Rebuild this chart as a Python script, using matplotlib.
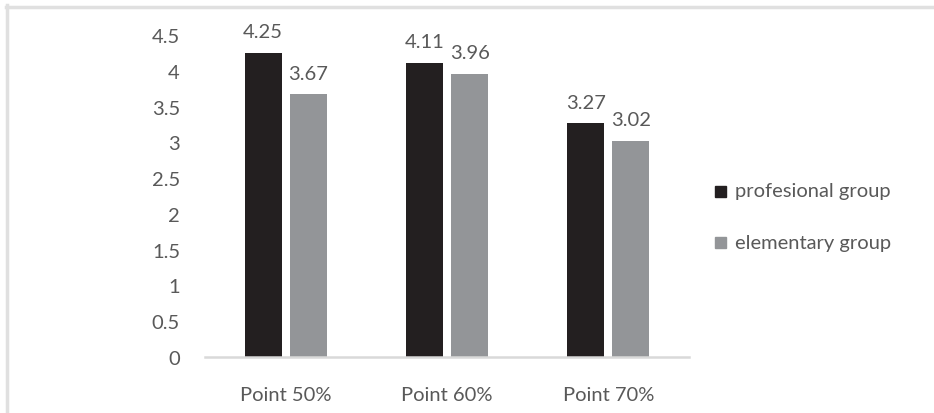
import matplotlib
matplotlib.use("Agg")
import matplotlib.pyplot as plt
import numpy as np
from matplotlib.lines import Line2D
from matplotlib.patches import Rectangle

categories = ["Point 50%", "Point 60%", "Point 70%"]
series_names = ["profesional group", "elementary group"]
profesional = [4.25, 4.11, 3.27]
elementary = [3.67, 3.96, 3.02]
yticks = [0, 0.5, 1, 1.5, 2, 2.5, 3, 3.5, 4, 4.5]
ytick_labels = ["0", "0.5", "1", "1.5", "2", "2.5", "3", "3.5", "4", "4.5"]

plt.rcParams['font.family'] = ['Lato', 'DejaVu Sans']
txt = "#595959"
c_black = "#231f20"
c_gray = "#939598"
colors = [c_black, c_gray]

W, H = 934, 414
fig = plt.figure(figsize=(W/100, H/100), dpi=100)
ax = fig.add_axes([205/W, 1-358/H, (689-205)/W, (358-36)/H])

x = np.arange(len(categories))
w = 0.23
off = 0.14
b1 = ax.bar(x - off, profesional, w, color=c_black, label=series_names[0])
b2 = ax.bar(x + off, elementary, w, color=c_gray, label=series_names[1])

fs = 14.5
for bars, vals in ((b1, profesional), (b2, elementary)):
    for r, v in zip(bars, vals):
        ax.annotate(f"{v:.2f}", (r.get_x() + r.get_width()/2, v),
                    xytext=(0, 9), textcoords="offset points",
                    ha="center", va="bottom", fontsize=fs, color=txt)

ax.set_xlim(-0.5, 2.5)
ax.set_ylim(0, 4.5)
ax.set_yticks(yticks)
ax.set_yticklabels(ytick_labels)
ax.set_xticks(x)
ax.set_xticklabels(categories)
ax.tick_params(axis='both', length=0, labelsize=fs, colors=txt)
ax.tick_params(axis='y', pad=18)
ax.tick_params(axis='x', pad=21)
for s in ("top", "right", "left"):
    ax.spines[s].set_visible(False)
ax.spines["bottom"].set_color("#d9d9d9")
ax.spines["bottom"].set_linewidth(1.8)

# legend (manual, pixel-placed)
leg_y = [192, 243.5]
for name, col, yy in zip(series_names, colors, leg_y):
    fig.add_artist(Rectangle((715/W, 1-(yy+5.5)/H), 11/W, 11/H, color=col,
                             transform=fig.transFigure))
    fig.text(735/W, 1-yy/H, name, fontsize=fs, color=txt, ha="left", va="center")

# outer frame lines
fig.add_artist(Line2D([6/W, 1], [1-7.5/H, 1-7.5/H], color="#e0e0e0", lw=2.5, transform=fig.transFigure))
fig.add_artist(Line2D([6.5/W, 6.5/W], [0, 1-6/H], color="#e0e0e0", lw=2.5, transform=fig.transFigure))

fig.savefig("out.png", dpi=100)
